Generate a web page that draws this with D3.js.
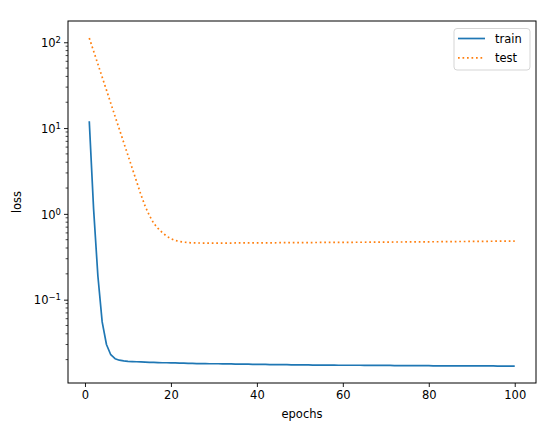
<!DOCTYPE html>
<html><head><meta charset="utf-8">
<script src="https://cdn.jsdelivr.net/npm/d3@7"></script>
<style>body{margin:0;background:#fff}svg{display:block}text{font-family:"DejaVu Sans",sans-serif;fill:#000}</style>
</head><body>
<script>
const epochs = d3.range(1, 101);
const trainLoss = [
12.0,1.15,0.19,0.055,0.030,0.0228,0.0205,0.0197,0.0193,0.0191,
0.0190,0.0189,0.0188,0.0187,0.0186,0.0186,0.0185,0.0184,0.0184,0.0183,
0.0183,0.0182,0.0182,0.0181,0.0181,0.0180,0.0180,0.0180,0.0179,0.0179,
0.0179,0.0178,0.0178,0.0178,0.0177,0.0177,0.0177,0.0177,0.0176,0.0176,
0.0176,0.0176,0.0175,0.0175,0.0175,0.0175,0.0175,0.0174,0.0174,0.0174,
0.0174,0.0174,0.0173,0.0173,0.0173,0.0173,0.0173,0.0173,0.0172,0.0172,
0.0172,0.0172,0.0172,0.0172,0.0171,0.0171,0.0171,0.0171,0.0171,0.0171,
0.0171,0.0170,0.0170,0.0170,0.0170,0.0170,0.0170,0.0170,0.0170,0.0170,
0.0169,0.0169,0.0169,0.0169,0.0169,0.0169,0.0169,0.0169,0.0169,0.0169,
0.0169,0.0169,0.0169,0.0169,0.0169,0.0168,0.0168,0.0168,0.0168,0.0168];
const testLoss = [
112,79.1,55.7,39.3,27.7,19.5,13.7,9.68,6.82,4.81,
3.39,2.39,1.68,1.23,0.955,0.776,0.676,0.603,0.550,0.513,
0.490,0.476,0.468,0.462,0.459,0.458,0.457,0.457,0.457,0.457,
0.457,0.457,0.457,0.457,0.458,0.458,0.458,0.458,0.459,0.459,
0.459,0.460,0.460,0.460,0.461,0.461,0.461,0.462,0.462,0.462,
0.463,0.463,0.463,0.464,0.464,0.464,0.465,0.465,0.465,0.466,
0.466,0.466,0.467,0.467,0.467,0.468,0.468,0.468,0.469,0.469,
0.469,0.470,0.470,0.470,0.471,0.471,0.471,0.472,0.472,0.472,
0.473,0.473,0.474,0.474,0.475,0.475,0.476,0.476,0.477,0.477,
0.478,0.478,0.479,0.479,0.480,0.480,0.481,0.481,0.482,0.482];
const xTicks = [0, 20, 40, 60, 80, 100];
const yMajorExps = [-1, 0, 1, 2];
const seriesNames = ["train", "test"];
const seriesColors = ["#1f77b4", "#ff7f0e"];

const W = 554, H = 428;
const m = {left: 68, top: 21, right: 536, bottom: 383};
const svg = d3.select("body").append("svg").attr("width", W).attr("height", H);

const x = d3.scaleLinear().domain([-3.95, 104.95]).range([m.left, m.right]);
const y = d3.scaleLog().domain([0.01068, 177]).range([m.bottom, m.top]);

// lines
const line = d3.line().x((d, i) => x(epochs[i])).y(d => y(d));
svg.append("path").datum(trainLoss).attr("d", line).attr("fill", "none")
  .attr("stroke", seriesColors[0]).attr("stroke-width", 1.7).attr("stroke-linejoin", "round");
svg.append("path").datum(testLoss).attr("d", line).attr("fill", "none")
  .attr("stroke", seriesColors[1]).attr("stroke-width", 1.7).attr("stroke-dasharray", "1.7,2.8");

// x axis
const xAxis = d3.axisBottom(x).tickValues(xTicks).tickSize(4).tickPadding(4).tickFormat(d3.format("d"));
const gx = svg.append("g").attr("transform", `translate(0,${m.bottom})`).call(xAxis);
gx.select(".domain").remove();
gx.selectAll("text").attr("font-size", "11.5px").attr("font-family", "DejaVu Sans");
gx.selectAll("line").attr("stroke", "#000").attr("stroke-width", 0.9);

// y axis major
const ymaj = yMajorExps.map(e => Math.pow(10, e));
const yAxis = d3.axisLeft(y).tickValues(ymaj).tickSize(4).tickPadding(4).tickFormat("");
const gy = svg.append("g").attr("transform", `translate(${m.left},0)`).call(yAxis);
gy.select(".domain").remove();
gy.selectAll("line").attr("stroke", "#000").attr("stroke-width", 0.9);
gy.selectAll(".tick").each(function(d, i) {
  const t = d3.select(this).append("text").attr("x", -7).attr("dy", "0.36em")
    .attr("text-anchor", "end").attr("font-size", "11.5px").attr("fill", "#000");
  t.append("tspan").text("10");
  t.append("tspan").attr("dy", "-0.45em").attr("font-size", "8.5px").text(yMajorExps[i] < 0 ? "\u2212" + Math.abs(yMajorExps[i]) : String(yMajorExps[i]));
});
// y minor ticks
const minors = [];
for (let e = -2; e <= 2; e++) for (let k = 2; k <= 9; k++) {
  const v = k * Math.pow(10, e);
  if (v >= y.domain()[0] && v <= y.domain()[1]) minors.push(v);
}
svg.append("g").selectAll("line").data(minors).join("line")
  .attr("x1", m.left - 2.4).attr("x2", m.left).attr("y1", d => y(d)).attr("y2", d => y(d))
  .attr("stroke", "#000").attr("stroke-width", 0.7);

// frame
svg.append("rect").attr("x", m.left).attr("y", m.top).attr("width", m.right - m.left)
  .attr("height", m.bottom - m.top).attr("fill", "none").attr("stroke", "#000").attr("stroke-width", 1);

// axis labels
svg.append("text").attr("x", (m.left + m.right) / 2).attr("y", 418).attr("text-anchor", "middle")
  .attr("font-size", "11.5px").text("epochs");
svg.append("text").attr("transform", `translate(21,${(m.top + m.bottom) / 2}) rotate(-90)`)
  .attr("text-anchor", "middle").attr("font-size", "11.5px").text("loss");

// legend
const lg = svg.append("g");
lg.append("rect").attr("x", 454).attr("y", 28.5).attr("width", 76).attr("height", 41.5).attr("rx", 3)
  .attr("fill", "#fff").attr("fill-opacity", 0.8).attr("stroke", "#d0d0d0").attr("stroke-width", 0.9);
seriesNames.forEach((n, i) => {
  const yy = 38.5 + i * 19.3;
  lg.append("line").attr("x1", 458).attr("x2", 485).attr("y1", yy).attr("y2", yy)
    .attr("stroke", seriesColors[i]).attr("stroke-width", 1.7)
    .attr("stroke-dasharray", i === 1 ? "1.7,2.8" : null);
  lg.append("text").attr("x", 495).attr("y", yy).attr("dy", "0.36em").attr("font-size", "11.5px").text(n);
});
</script>
</body></html>
